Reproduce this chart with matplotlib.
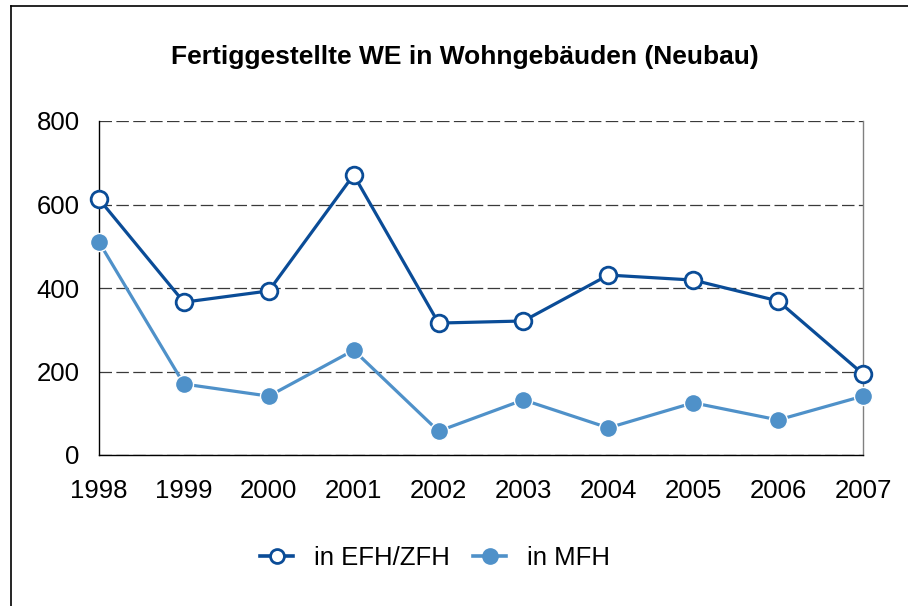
"""Fertiggestellte WE in Wohngebäuden (Neubau), 1998-2007."""
import matplotlib as mpl
import matplotlib.pyplot as plt
from matplotlib.lines import Line2D

NAVY = "#0A4C97"
LIGHT = "#4F91C9"

mpl.rcParams.update(
    {
        "font.family": ["Liberation Sans", "DejaVu Sans"],
        "font.size": 18.5,
    }
)

years = ["1998", "1999", "2000", "2001", "2002", "2003", "2004", "2005", "2006", "2007"]
efh_zfh = [613, 366, 393, 671, 316, 321, 431, 419, 369, 194]
mfh = [510, 170, 141, 251, 57, 132, 65, 125, 84, 141]

fig = plt.figure(figsize=(9.08, 6.06), dpi=100)
W, H = 908, 606
ax = fig.add_axes([99 / W, 1 - 455 / H, (863 - 99) / W, (455 - 121) / H])

x = list(range(len(years)))
ax.plot(x, efh_zfh, color=NAVY, lw=2.3, marker="o", ms=12,
        mfc="white", mec=NAVY, mew=2.0, label="in EFH/ZFH", zorder=4, clip_on=False)
ax.plot(x, mfh, color=LIGHT, lw=2.3, marker="o", ms=13,
        mfc=LIGHT, mec="white", mew=1.0, label="in MFH", zorder=3, clip_on=False)

ax.set_xlim(0, len(years) - 1)
ax.set_ylim(0, 800)
ax.set_yticks([0, 200, 400, 600, 800])
ax.set_xticks(x)
ax.set_xticklabels(years)
ax.tick_params(axis="both", length=0, labelsize=18.5)
ax.tick_params(axis="y", pad=14)
ax.tick_params(axis="x", pad=17)
ax.yaxis.grid(True, color="#3a3a3a", ls=(0, (10, 3.5)), lw=0.9)
ax.set_axisbelow(True)

ax.spines["top"].set_visible(False)
ax.spines["right"].set_color("#808080")
ax.spines["right"].set_linewidth(1.0)
ax.spines["left"].set_color("black")
ax.spines["bottom"].set_color("black")
for s in ("left", "bottom"):
    ax.spines[s].set_linewidth(1.0)

fig.text(465 / W, 1 - 57 / H, "Fertiggestellte WE in Wohngebäuden (Neubau)",
         ha="center", va="center", fontsize=19, fontweight="bold")

handles = [
    Line2D([], [], color=NAVY, lw=2.6, marker="o", ms=10, mfc="white", mec=NAVY, mew=2.0),
    Line2D([], [], color=LIGHT, lw=2.6, marker="o", ms=11, mfc=LIGHT, mec=LIGHT),
]
fig.legend(handles, ["in EFH/ZFH", "in MFH"], loc="center",
           bbox_to_anchor=(435 / W, 1 - 558 / H), ncol=2, frameon=False,
           fontsize=18.5, handlelength=1.3, columnspacing=0.9, handletextpad=0.8)

# outer chart frame (only top and left edges visible)
fig.add_artist(Line2D([11 / W, 1], [1 - 6 / H, 1 - 6 / H], transform=fig.transFigure,
                      color="black", lw=1.2))
fig.add_artist(Line2D([11 / W, 11 / W], [0, 1 - 6 / H], transform=fig.transFigure,
                      color="black", lw=1.2))

fig.savefig("out.png", dpi=100)
